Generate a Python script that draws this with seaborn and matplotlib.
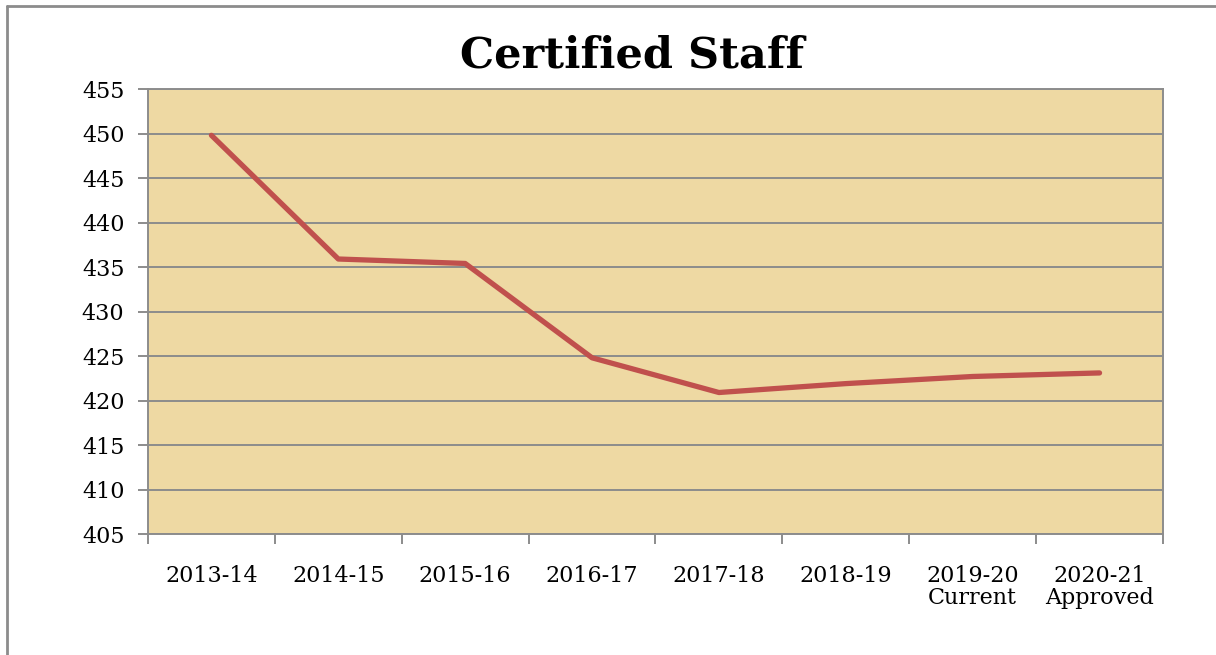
import matplotlib
matplotlib.use("Agg")
import matplotlib.pyplot as plt
import seaborn as sns
import pandas as pd
import numpy as np
from matplotlib.lines import Line2D

# ---- data ----
years = ["2013-14", "2014-15", "2015-16", "2016-17", "2017-18", "2018-19",
         "2019-20\nCurrent", "2020-21\nApproved"]
staff = [449.8, 435.9, 435.4, 424.8, 420.9, 421.9, 422.7, 423.1]
y_ticks = [405, 410, 415, 420, 425, 430, 435, 440, 445, 450, 455]

df = pd.DataFrame({"pos": np.arange(len(years)), "staff": staff})

sns.set_theme(style="white")
plt.rcParams["font.family"] = ["DejaVu Serif"]
plt.rcParams["text.color"] = "black"
plt.rcParams["xtick.labelcolor"] = "black"
plt.rcParams["ytick.labelcolor"] = "black"

fig = plt.figure(figsize=(12.16, 6.55), dpi=100)
ax = fig.add_axes([0.1217, 0.1847, 0.8347, 0.6794])
ax.set_facecolor("#eed9a3")

sns.lineplot(data=df, x="pos", y="staff", ax=ax, color="#c0504d",
             linewidth=3.8, zorder=3)

ax.set_xlim(-0.5, len(years) - 0.5)
ax.set_ylim(y_ticks[0], y_ticks[-1])
ax.set_yticks(y_ticks)
ax.yaxis.grid(True, color="#8c8c8c", linewidth=1.4)
ax.set_axisbelow(True)

# tick marks on the category boundaries, labels in the middle
ax.set_xticks(np.arange(len(years) + 1) - 0.5)
ax.set_xticklabels([])
ax.set_xticks(np.arange(len(years)), minor=True)
ax.set_xticklabels(years, minor=True, fontsize=16, linespacing=1.0)
ax.tick_params(axis="x", which="major", length=7, width=1.4, color="#8c8c8c",
               direction="out", bottom=True)
ax.tick_params(axis="x", which="minor", length=0, pad=22)
ax.tick_params(axis="y", length=7, width=1.4, color="#8c8c8c", direction="out",
               left=True, labelsize=16, pad=10)

for side in ["top", "bottom", "left", "right"]:
    ax.spines[side].set_visible(True)
    ax.spines[side].set_color("#8c8c8c")
    ax.spines[side].set_linewidth(1.4)

ax.set_xlabel("")
ax.set_ylabel("")

fig.text(0.52, 0.915, "Certified Staff", ha="center", va="center",
         fontsize=31, fontweight="bold", color="black")

# outer chart frame (cropped at right and bottom)
fig.add_artist(Line2D([0.0058, 1.0], [0.991, 0.991], transform=fig.transFigure,
                      color="#8c8c8c", linewidth=2))
fig.add_artist(Line2D([0.0058, 0.0058], [0.0, 0.991], transform=fig.transFigure,
                      color="#8c8c8c", linewidth=2))

fig.savefig("out.png", dpi=100)
